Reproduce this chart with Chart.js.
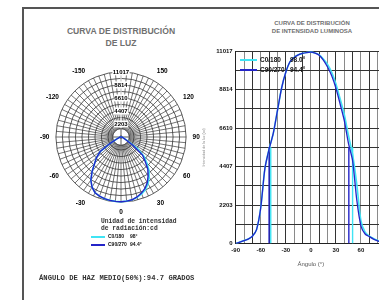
<!DOCTYPE html>
<html>
<head>
<meta charset="utf-8">
<script src="https://cdn.jsdelivr.net/npm/chart.js@4.4.1/dist/chart.umd.min.js"></script>
<style>
  html, body { margin: 0; padding: 0; background: #fff; width: 379px; height: 300px; overflow: hidden; position: relative; font-family: "Liberation Sans", Arial, sans-serif; }
  #frame { position: absolute; left: 22px; top: 7px; width: 400px; height: 300px; border-left: 2px solid #555; border-top: 2px solid #555; }
  #polarChart { position: absolute; left: 39px; top: 55px; }
  #lineChart { position: absolute; left: 194px; top: 40px; }
  .title { position: absolute; text-align: center; font-weight: bold; color: #707070; }
  .mono { position: absolute; font-family: "Liberation Mono", "Courier New", monospace; font-weight: bold; color: #333; white-space: pre; }
  .leg { position: absolute; font-weight: bold; color: #111; white-space: nowrap; }
  .leg i { position: absolute; display: block; height: 2px; }
  .leg span { position: absolute; }
</style>
</head>
<body>
<div id="frame"></div>

<div class="title" style="left:30px; top:25px; width:182px; font-size:8.6px; line-height:12px;">CURVA DE DISTRIBUCIÓN<br>DE LUZ</div>
<div class="title" style="left:252px; top:19px; width:120px; font-size:6px; line-height:8px;">CURVA DE DISTRIBUCIÓN<br>DE INTENSIDAD LUMINOSA</div>

<canvas id="polarChart" width="162" height="166"></canvas>
<canvas id="lineChart" width="204" height="232"></canvas>

<div class="mono" style="left:101px; top:219px; font-size:6.3px; line-height:6.5px;">Unidad de intensidad
de radiación:cd</div>

<div class="leg" id="polarLegend" style="left:91px; top:233px; font-size:5px;"></div>
<div class="leg" id="lineLegend" style="left:240px; top:56px; font-size:6.5px;"></div>

<div class="mono" style="left:39px; top:274px; font-size:7.2px;">ÁNGULO DE HAZ MEDIO(50%):94.7 GRADOS</div>

<script>
const cyan = '#40e4f4'
const blue = '#2424c8'

const seriesNames = [ 'C0/180', 'C90/270' ]
const polarBeam = [ '98°', '94.4°' ]
const lineBeam = [ '98.0°', '94.4°' ]

// angulos del plano (grados) y candela por angulo
const angles = [ -90, -85, -80, -75, -70, -65, -60, -55, -50, -45, -40, -35, -30, -25, -20, -15, -10, -5, 0,
  5, 10, 15, 20, 25, 30, 35, 40, 45, 50, 55, 60, 65, 70, 75, 80, 85, 90 ]
const c0Values = [ 0, 90, 170, 260, 420, 800, 2050, 4300, 5400, 6300, 7600, 8900, 9800, 10400, 10650, 10800, 10880, 10930, 10950,
  10900, 10800, 10560, 10250, 9800, 9150, 8300, 7400, 6200, 5100, 3400, 1300, 650, 430, 290, 180, 90, 0 ]
const c90Values = [ 0, 90, 170, 260, 420, 800, 2050, 4300, 5400, 6300, 7600, 8900, 9800, 10400, 10650, 10800, 10880, 10930, 10950,
  10900, 10780, 10500, 10100, 9600, 8900, 8000, 7050, 5750, 4750, 2500, 1000, 550, 400, 260, 160, 80, 0 ]

// lineas del 50%
const halfValue = 5508
const c0Half = [ -48, 50 ]
const c90Half = [ -50, 45.5 ]

// escala
const maxValue = 11017
const ringStep = 1101.7
const ringLabels = [ '0', '2203', '4407', '6610', '8814', '11017' ]
const xTickLabels = [ -90, -60, -30, 0, 30, 60, 90 ]

// polar: desde arriba en sentido horario
const polarAngles = [ 180, 175, 170, 165, 160, 155, 150, 145, 140, 135, 130, 125, 120, 115, 110, 105, 100, 95,
  90, 85, 80, 75, 70, 65, 60, 55, 50, 45, 40, 35, 30, 25, 20, 15, 10, 5,
  0, -5, -10, -15, -20, -25, -30, -35, -40, -45, -50, -55, -60, -65, -70, -75, -80, -85,
  -90, -95, -100, -105, -110, -115, -120, -125, -130, -135, -140, -145, -150, -155, -160, -165, -170, -175 ]
const polarShown = [ 150, 120, 90, 60, 30, 0, -30, -60, -90, -120, -150 ]

const polarSeries = values => polarAngles.map( a => {
  const i = angles.indexOf( a )
  return i === -1 ? 0 : values[ i ]
} )

const polarHub = {
  id: 'polarHub',
  beforeDatasetsDraw( chart ) {
    const r = chart.scales.r
    const ctx = chart.ctx
    const rad = r.getDistanceFromCenterForValue( 1400 )
    ctx.save()
    ctx.fillStyle = '#fff'
    ctx.strokeStyle = '#333'
    ctx.lineWidth = 0.8
    ctx.beginPath()
    ctx.arc( r.xCenter, r.yCenter, rad, 0, Math.PI * 2 )
    ctx.fill()
    ctx.stroke()
    ctx.beginPath()
    ctx.moveTo( r.xCenter - rad, r.yCenter )
    ctx.lineTo( r.xCenter + rad, r.yCenter )
    ctx.moveTo( r.xCenter, r.yCenter - rad )
    ctx.lineTo( r.xCenter, r.yCenter + rad )
    ctx.stroke()
    ctx.fillStyle = '#222'
    ctx.beginPath()
    ctx.arc( r.xCenter, r.yCenter, 1.6, 0, Math.PI * 2 )
    ctx.fill()
    ctx.restore()
  }
}

const boldFont = size => ( { family: '"Liberation Sans", Arial, sans-serif', size: size, weight: 'bold' } )

new Chart( document.getElementById( 'polarChart' ), {
  type: 'radar',
  data: {
    labels: polarAngles.map( String ),
    datasets: [
      { label: seriesNames[ 1 ], data: polarSeries( c90Values ), borderColor: blue, borderWidth: 1.4, pointRadius: 0, fill: false },
      { label: seriesNames[ 0 ], data: polarSeries( c0Values ), borderColor: cyan, borderWidth: 1.6, pointRadius: 0, fill: false }
    ]
  },
  options: {
    responsive: false,
    animation: false,
    devicePixelRatio: 1,
    plugins: { legend: { display: false }, tooltip: { enabled: false } },
    scales: {
      r: {
        min: 0,
        max: maxValue,
        startAngle: 0,
        ticks: {
          stepSize: ringStep,
          font: boldFont( 6 ),
          color: '#000',
          showLabelBackdrop: true,
          backdropColor: '#fff',
          backdropPadding: 0.5,
          callback: ( value, index ) => index % 2 === 0 ? ringLabels[ index / 2 ] : ''
        },
        grid: { circular: true, color: '#333', lineWidth: 0.8 },
        angleLines: { color: '#3a3a3a', lineWidth: 0.7 },
        pointLabels: {
          font: boldFont( 6.5 ),
          color: '#000',
          padding: 3,
          callback: label => polarShown.includes( Number( label ) ) ? label : ''
        }
      }
    }
  },
  plugins: [ polarHub ]
} )

const curve = ( values, color, width ) => ( {
  data: angles.map( ( a, i ) => ( { x: a, y: values[ i ] } ) ),
  borderColor: color, borderWidth: width, pointRadius: 0, fill: false, tension: 0.25
} )
const marker = ( x, color ) => ( {
  data: [ { x: x, y: 0 }, { x: x, y: halfValue } ],
  borderColor: color, borderWidth: 1.4, pointRadius: 0, fill: false
} )

new Chart( document.getElementById( 'lineChart' ), {
  type: 'line',
  data: {
    datasets: [
      curve( c90Values, blue, 1.3 ),
      curve( c0Values, cyan, 1.6 ),
      marker( c90Half[ 0 ], blue ),
      marker( c90Half[ 1 ], blue ),
      marker( c0Half[ 0 ], cyan ),
      marker( c0Half[ 1 ], cyan )
    ]
  },
  options: {
    responsive: false,
    animation: false,
    devicePixelRatio: 1,
    layout: { padding: { top: 11, right: 12, left: 8, bottom: 4 } },
    plugins: { legend: { display: false }, tooltip: { enabled: false } },
    scales: {
      x: {
        type: 'linear',
        min: -90,
        max: 90,
        ticks: {
          stepSize: 10,
          autoSkip: false,
          maxRotation: 0,
          padding: 3,
          font: boldFont( 6 ),
          color: '#111',
          callback: value => xTickLabels.includes( value ) ? String( value ) : ''
        },
        grid: {
          drawTicks: false,
          lineWidth: 1,
          color: ctx => ctx.index % 2 === 0 ? '#333' : '#8a8a8a'
        },
        border: { color: '#222', width: 1 },
        title: { display: true, text: 'Ángulo (°)', font: { family: '"Liberation Sans", Arial, sans-serif', size: 6 }, color: '#555', padding: { top: 4, bottom: 0 } }
      },
      y: {
        min: 0,
        max: maxValue,
        ticks: {
          stepSize: ringStep,
          autoSkip: false,
          padding: 3,
          font: boldFont( 6 ),
          color: '#111',
          callback: ( value, index ) => index % 2 === 0 ? ringLabels[ index / 2 ] : ''
        },
        grid: { drawTicks: false, color: '#333', lineWidth: 1 },
        border: { color: '#222', width: 1 },
        title: { display: true, text: 'Intensidad de la luz (cd)', font: { family: '"Liberation Sans", Arial, sans-serif', size: 3.6 }, color: '#888', padding: { top: 0, bottom: 7 } }
      }
    }
  }
} )

// leyendas
const legendRows = ( el, beam, lineW, nameX, beamX, rowH ) => {
  const colors = [ cyan, blue ]
  el.innerHTML = seriesNames.map( ( name, i ) =>
    `<i style="left:0;top:${ i * rowH + 3 }px;width:${ lineW }px;background:${ colors[ i ] }"></i>` +
    `<span style="left:${ nameX }px;top:${ i * rowH }px">${ name }</span>` +
    `<span style="left:${ beamX }px;top:${ i * rowH }px">${ beam[ i ] }</span>` ).join( '' )
}
legendRows( document.getElementById( 'polarLegend' ), polarBeam, 14, 17, 39, 8 )
legendRows( document.getElementById( 'lineLegend' ), lineBeam, 17, 20, 50, 10 )
</script>
</body>
</html>
